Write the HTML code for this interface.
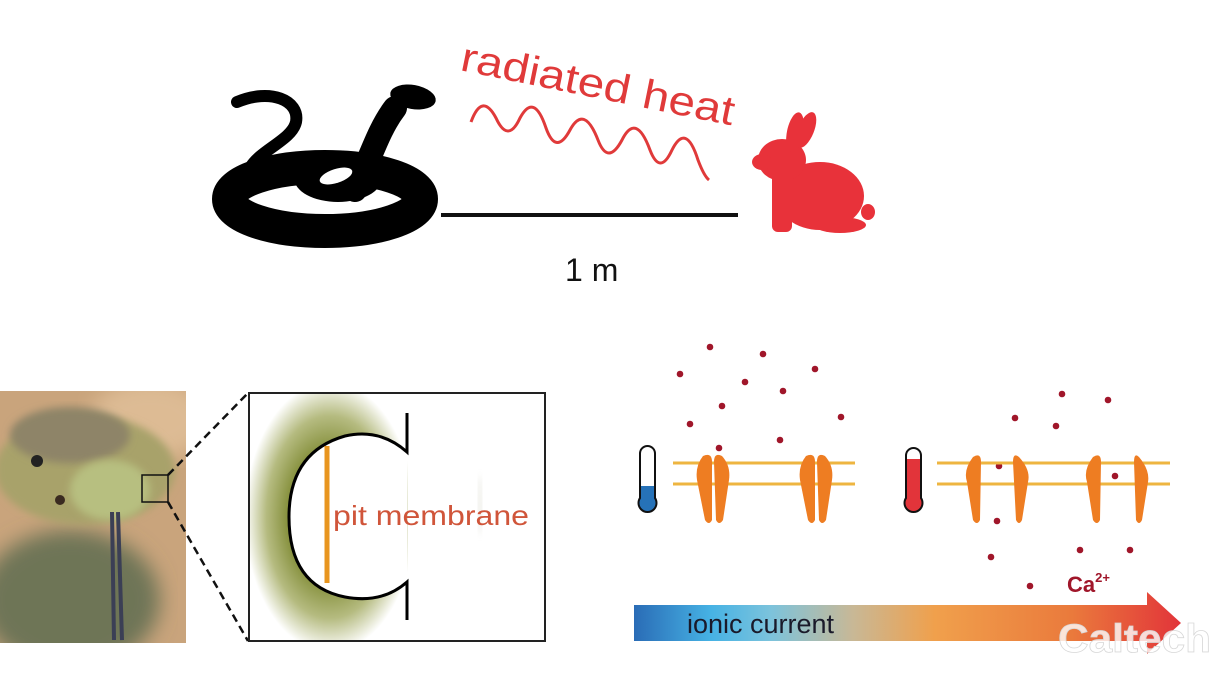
<!DOCTYPE html>
<html><head><meta charset="utf-8"><style>
html,body{margin:0;padding:0;background:#fff;}
svg{display:block;}
</style></head><body>
<svg width="1211" height="692" viewBox="0 0 1211 692" xmlns="http://www.w3.org/2000/svg">
<defs>
<filter id="blur8"><feGaussianBlur stdDeviation="10"/></filter>
<filter id="blur3"><feGaussianBlur stdDeviation="4"/></filter>
<radialGradient id="grn" cx="330" cy="517" r="1" gradientUnits="userSpaceOnUse" gradientTransform="translate(330 517) scale(85 135) translate(-330 -517)">
<stop offset="0" stop-color="#6f7a1e"/>
<stop offset="0.45" stop-color="#7d8830"/>
<stop offset="0.75" stop-color="#b5bb80"/>
<stop offset="1" stop-color="#ffffff"/>
</radialGradient>
<linearGradient id="arr" x1="634" y1="0" x2="1181" y2="0" gradientUnits="userSpaceOnUse">
<stop offset="0" stop-color="#2a6cb6"/>
<stop offset="0.14" stop-color="#46b2e4"/>
<stop offset="0.25" stop-color="#7cc3dc"/>
<stop offset="0.4" stop-color="#c8b896"/>
<stop offset="0.55" stop-color="#f0a04c"/>
<stop offset="0.8" stop-color="#ea7a3c"/>
<stop offset="1" stop-color="#e2343a"/>
</linearGradient>
<clipPath id="photo"><rect x="0" y="391" width="186" height="252"/></clipPath>
<clipPath id="leftc"><rect x="249" y="394" width="159" height="246"/></clipPath>
</defs>

<!-- TOP: snake -->
<g fill="#000" stroke="#000">
<ellipse cx="325" cy="199" rx="96" ry="32" fill="none" stroke-width="34"/>
<ellipse cx="338" cy="178" rx="44" ry="24" stroke="none"/>
<path d="M355,190 C370,160 378,130 395,108" fill="none" stroke-width="24" stroke-linecap="round"/>
<ellipse cx="413" cy="97" rx="23" ry="12" transform="rotate(10 413 97)" stroke="none"/>
<path d="M237,102 C270,88 300,100 296,122 C292,140 260,150 250,168" fill="none" stroke-width="12" stroke-linecap="round"/>
</g>
<ellipse cx="336" cy="176" rx="17" ry="7" fill="#fff" transform="rotate(-18 336 176)"/>
<line x1="441" y1="215" x2="738" y2="215" stroke="#111" stroke-width="4"/>
<text x="565" y="281" font-family="Liberation Sans, sans-serif" font-size="32" fill="#111">1 m</text>
<text x="459" y="70" font-family="Liberation Sans, sans-serif" font-size="41" fill="#e03a3a" transform="rotate(11.5 459 70)" textLength="278" lengthAdjust="spacingAndGlyphs">radiated heat</text>
<path d="M471,122 Q482,92 496,118 Q508,144 520,118 Q534,92 546,128 Q556,156 570,130 Q584,104 598,140 Q608,166 622,140 Q636,112 650,150 Q660,176 672,150 Q686,122 698,160 Q704,176 709,180" fill="none" stroke="#e03a3a" stroke-width="3"/>
<!-- rabbit -->
<g fill="#e8323a">
<ellipse cx="820" cy="196" rx="44" ry="34"/>
<ellipse cx="782" cy="160" rx="24" ry="21"/>
<ellipse cx="795" cy="132" rx="8" ry="20" transform="rotate(12 795 132)"/>
<ellipse cx="806" cy="130" rx="8" ry="19" transform="rotate(22 806 130)"/>
<ellipse cx="868" cy="212" rx="7" ry="8"/>
<rect x="772" y="170" width="20" height="62" rx="6"/>
<ellipse cx="840" cy="225" rx="26" ry="8"/>
<ellipse cx="762" cy="162" rx="10" ry="8"/>
</g>

<!-- photo -->
<g clip-path="url(#photo)">
<rect x="0" y="391" width="186" height="252" fill="#c9a47c"/>
<ellipse cx="150" cy="420" rx="60" ry="40" fill="#ddbb94" filter="url(#blur8)"/>
<ellipse cx="70" cy="600" rx="90" ry="70" fill="#6e7456" filter="url(#blur8)"/>
<ellipse cx="85" cy="470" rx="90" ry="55" fill="#a8a26a" filter="url(#blur3)"/>
<ellipse cx="70" cy="435" rx="60" ry="28" fill="#8e8468" filter="url(#blur3)"/>
<ellipse cx="110" cy="490" rx="40" ry="30" fill="#b7bf80" filter="url(#blur3)"/>
<circle cx="37" cy="461" r="6" fill="#222"/>
<circle cx="60" cy="500" r="5" fill="#3a2a20"/>
<path d="M112,512 L114,640 M118,512 L122,640" stroke="#3b3f55" stroke-width="4"/>
</g>
<rect x="142" y="475" width="26" height="27" fill="none" stroke="#111" stroke-width="1.5"/>
<line x1="168" y1="475" x2="248" y2="393" stroke="#111" stroke-width="2.5" stroke-dasharray="8,5"/>
<line x1="168" y1="502" x2="248" y2="641" stroke="#111" stroke-width="2.5" stroke-dasharray="8,5"/>

<!-- pit box -->
<g clip-path="url(#leftc)">
<rect x="249" y="394" width="159" height="246" fill="url(#grn)"/>
</g>
<path d="M407,452 Q380,428 345,436 Q289,452 289,517 Q289,586 345,597 Q382,604 407,582 Z" fill="#fff"/>
<path d="M407,413 L407,452 Q380,428 345,436 Q289,452 289,517 Q289,586 345,597 Q382,604 407,582 L407,620" fill="none" stroke="#000" stroke-width="3"/>
<line x1="327" y1="446" x2="327" y2="583" stroke="#e8951f" stroke-width="5"/>
<ellipse cx="480" cy="505" rx="2" ry="30" fill="#e4e4dc" filter="url(#blur3)"/>
<rect x="249" y="393" width="296" height="248" fill="none" stroke="#222" stroke-width="2"/>
<text x="333" y="525" font-family="Liberation Sans, sans-serif" font-size="28" fill="#d0553a" textLength="196" lengthAdjust="spacingAndGlyphs">pit membrane</text>

<!-- dots -->
<g fill="#a0162a">
<circle cx="710" cy="347" r="3.3"/><circle cx="763" cy="354" r="3.3"/><circle cx="680" cy="374" r="3.3"/>
<circle cx="745" cy="382" r="3.3"/><circle cx="783" cy="391" r="3.3"/><circle cx="815" cy="369" r="3.3"/>
<circle cx="722" cy="406" r="3.3"/><circle cx="841" cy="417" r="3.3"/><circle cx="690" cy="424" r="3.3"/>
<circle cx="780" cy="440" r="3.3"/><circle cx="719" cy="448" r="3.3"/>
<circle cx="1062" cy="394" r="3.3"/><circle cx="1108" cy="400" r="3.3"/><circle cx="1015" cy="418" r="3.3"/>
<circle cx="1056" cy="426" r="3.3"/><circle cx="999" cy="466" r="3.3"/><circle cx="1115" cy="476" r="3.3"/>
<circle cx="997" cy="521" r="3.3"/><circle cx="991" cy="557" r="3.3"/><circle cx="1080" cy="550" r="3.3"/>
<circle cx="1130" cy="550" r="3.3"/><circle cx="1030" cy="586" r="3.3"/><circle cx="1094" cy="620" r="3.3"/>
</g>

<!-- thermometers -->
<rect x="640" y="446" width="15" height="60" rx="7.5" fill="#fff" stroke="#111" stroke-width="2"/>
<circle cx="647.5" cy="503" r="9" fill="#2672b8" stroke="#111" stroke-width="2"/>
<rect x="641" y="486" width="13" height="14" fill="#2672b8"/>
<rect x="906" y="448" width="15" height="58" rx="7.5" fill="#fff" stroke="#111" stroke-width="2"/>
<circle cx="913.5" cy="503" r="9" fill="#e2343a" stroke="#111" stroke-width="2"/>
<rect x="907" y="459" width="13" height="42" fill="#e2343a"/>

<!-- membranes -->
<g stroke="#eeb540" stroke-width="3">
<line x1="673" y1="463" x2="855" y2="463"/><line x1="673" y1="484" x2="855" y2="484"/>
<line x1="937" y1="463" x2="1170" y2="463"/><line x1="937" y1="484" x2="1170" y2="484"/>
</g>
<g fill="#ee7d22">
<path d="M703,456 Q712,452 712,462 L712,520 Q709,526 705,520 L697,480 Q695,466 703,456Z"/>
<path d="M722,456 Q714,452 714,462 L716,520 Q719,526 723,520 L729,480 Q731,466 722,456Z"/>
<path d="M806,456 Q815,452 815,462 L815,520 Q812,526 808,520 L800,480 Q798,466 806,456Z"/>
<path d="M825,456 Q817,452 817,462 L819,520 Q822,526 826,520 L832,480 Q834,466 825,456Z"/>
<path d="M973,457 Q981,452 981,462 L980,520 Q977,526 973,520 L967,482 Q963,470 973,457Z"/>
<path d="M1019,457 Q1013,452 1013,462 L1016,520 Q1019,526 1022,520 L1028,482 Q1031,470 1019,457Z"/>
<path d="M1093,457 Q1101,452 1101,462 L1100,520 Q1097,526 1093,520 L1087,482 Q1083,470 1093,457Z"/>
<path d="M1139,457 Q1134,452 1134,462 L1136,520 Q1139,526 1142,520 L1148,482 Q1150,470 1139,457Z"/>
</g>

<!-- arrow -->
<path d="M634,605 L1147,605 L1147,592 L1181,623 L1147,654 L1147,641 L634,641 Z" fill="url(#arr)"/>
<text x="687" y="633" font-family="Liberation Sans, sans-serif" font-size="27" fill="#1a1a2a">ionic current</text>
<text x="1067" y="592" font-family="Liberation Sans, sans-serif" font-size="22" font-weight="bold" fill="#a0162a">Ca<tspan font-size="13" dy="-10">2+</tspan></text>
<text x="1058" y="652" font-family="Liberation Sans, sans-serif" font-size="40" font-weight="bold" fill="#fff" fill-opacity="0.8" stroke="#d8d8d8" stroke-width="0.8" textLength="153" lengthAdjust="spacingAndGlyphs">Caltech</text>
</svg>
</body></html>
